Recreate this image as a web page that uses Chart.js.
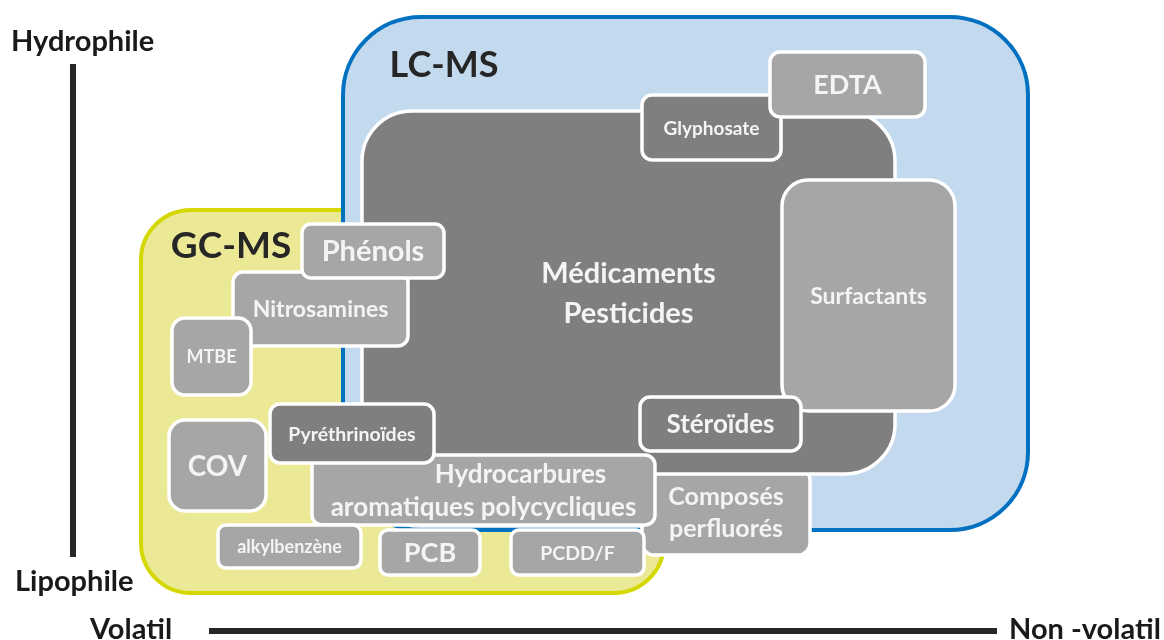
<!DOCTYPE html>
<html>
<head>
<meta charset="utf-8">
<script src="https://cdn.jsdelivr.net/npm/chart.js@4.4.0/dist/chart.umd.min.js"></script>
<style>
  html, body { margin: 0; padding: 0; background: #fff; }
  #diagramme { display: block; }
</style>
</head>
<body>
<canvas id="diagramme" width="1164" height="640"></canvas>
<script>
// Techniques d'analyse (zones) : étendue sur l'axe volatilité (x) et polarité (y)
const zones = ['LC-MS', 'GC-MS'];
const zoneX = [[343, 1028], [141, 664]];
const zoneY = [[17, 530], [210, 593]];

// Familles de composés, dans l'ordre de superposition
const composes = [
  'Composés\nperfluorés',
  'Médicaments\nPesticides',
  'Glyphosate',
  'EDTA',
  'Surfactants',
  'Stéroïdes',
  'Nitrosamines',
  'Phénols',
  'MTBE',
  'COV',
  'Hydrocarbures\naromatiques polycycliques',
  'Pyréthrinoïdes',
  'alkylbenzène',
  'PCB',
  'PCDD/F'
];
const composeX = [
  [642, 810], [362, 895], [642, 781], [770, 925], [782, 955], [640, 801],
  [233, 408], [302, 444], [172, 251], [169, 266], [312, 655], [270, 434],
  [218, 361], [380, 480], [511, 644]
];
const composeY = [
  [468, 555], [111, 474], [95, 160], [52, 117], [180, 411], [397, 451],
  [272, 346], [224, 278], [318, 395], [420, 511], [455, 525], [404, 463],
  [525, 568], [530, 575], [530, 575]
];

// Axes du diagramme
const axeLabels = ['Hydrophile', 'Lipophile', 'Volatil', 'Non -volatil'];
const axeVertical = [{ x: 73, y: 64 }, { x: 73, y: 557 }];
const axeHorizontal = [{ x: 209, y: 631 }, { x: 997, y: 631 }];

// Styles
const zoneFond = ['#c3d9ee', '#ebe996'];
const zoneBord = ['#0070c0', '#d4d700'];
const zoneRayon = [78, 50];
const zoneTitre = [{ x: 444, y: 65, taille: 36 }, { x: 231, y: 246, taille: 37 }];
const compFond = ['#a6a6a6', '#7f7f7f', '#7f7f7f', '#a6a6a6', '#a6a6a6', '#7f7f7f',
  '#a6a6a6', '#a6a6a6', '#a6a6a6', '#a6a6a6', '#a6a6a6', '#7f7f7f',
  '#a6a6a6', '#a6a6a6', '#a6a6a6'];
const compRayon = [12, 50, 10, 10, 26, 10, 10, 9, 13, 16, 10, 10, 8, 8, 8];
const compPolice = [25, 29, 19, 27, 23, 26, 23, 29, 18, 28, 26, 19.5, 18, 27, 19.5];
const compInterligne = [32, 40, 0, 0, 0, 0, 0, 0, 0, 0, 33, 0, 0, 0, 0];
// décalage horizontal de la première ligne (Hydrocarbures)
const compDecalage = [0, 0, 0, 0, 0, 0, 0, 0, 0, 0, 37, 0, 0, 0, 0];
const POLICE = 'Lato, "Open Sans", sans-serif';

function rondRect(ctx, x0, y0, x1, y1, r) {
  ctx.beginPath();
  ctx.moveTo(x0 + r, y0);
  ctx.lineTo(x1 - r, y0);
  ctx.arcTo(x1, y0, x1, y0 + r, r);
  ctx.lineTo(x1, y1 - r);
  ctx.arcTo(x1, y1, x1 - r, y1, r);
  ctx.lineTo(x0 + r, y1);
  ctx.arcTo(x0, y1, x0, y1 - r, r);
  ctx.lineTo(x0, y0 + r);
  ctx.arcTo(x0, y0, x0 + r, y0, r);
  ctx.closePath();
}

const boitesPlugin = {
  id: 'boites',
  beforeDatasetsDraw(chart) {
    const ctx = chart.ctx;
    const sx = chart.scales.x, sy = chart.scales.y;
    ctx.save();

    // zone GC-MS d'abord, puis LC-MS par-dessus
    [1, 0].forEach(function(i) {
      const x0 = sx.getPixelForValue(zoneX[i][0]), x1 = sx.getPixelForValue(zoneX[i][1]);
      const y0 = sy.getPixelForValue(zoneY[i][0]), y1 = sy.getPixelForValue(zoneY[i][1]);
      rondRect(ctx, x0, y0, x1, y1, zoneRayon[i]);
      ctx.fillStyle = zoneFond[i];
      ctx.fill();
      ctx.lineWidth = 4;
      ctx.strokeStyle = zoneBord[i];
      ctx.stroke();
    });
    ctx.fillStyle = '#262626';
    ctx.textAlign = 'center';
    ctx.textBaseline = 'middle';
    zones.forEach(function(nom, i) {
      ctx.font = 'bold ' + zoneTitre[i].taille + 'px ' + POLICE;
      ctx.fillText(nom, sx.getPixelForValue(zoneTitre[i].x), sy.getPixelForValue(zoneTitre[i].y));
    });

    composes.forEach(function(nom, i) {
      const x0 = sx.getPixelForValue(composeX[i][0]), x1 = sx.getPixelForValue(composeX[i][1]);
      const y0 = sy.getPixelForValue(composeY[i][0]), y1 = sy.getPixelForValue(composeY[i][1]);
      rondRect(ctx, x0, y0, x1, y1, compRayon[i]);
      ctx.fillStyle = compFond[i];
      ctx.fill();
      ctx.lineWidth = 3.5;
      ctx.strokeStyle = '#ffffff';
      ctx.stroke();

      const lignes = nom.split('\n');
      const cy = (y0 + y1) / 2;
      const cx = (x0 + x1) / 2;
      ctx.textAlign = 'center';
      ctx.fillStyle = '#f4f4f4';
      ctx.font = 'bold ' + compPolice[i] + 'px ' + POLICE;
      lignes.forEach(function(l, k) {
        const dy = (k - (lignes.length - 1) / 2) * compInterligne[i];
        const dx = k === 0 ? compDecalage[i] : 0;
        ctx.fillText(l, cx + dx, cy + dy + 1);
      });
    });

    // libellés des axes
    ctx.fillStyle = '#1a1a1a';
    ctx.font = 'bold 29px ' + POLICE;
    ctx.textAlign = 'left';
    ctx.fillText(axeLabels[0], 11, 42);
    ctx.fillText(axeLabels[1], 15, 582);
    ctx.fillText(axeLabels[2], 90, 630);
    ctx.fillText(axeLabels[3], 1009, 630);
    ctx.restore();
  }
};

const ctx = document.getElementById('diagramme').getContext('2d');
const chart = new Chart(ctx, {
  type: 'line',
  data: {
    datasets: [{
      label: 'Hydrophile / Lipophile',
      data: axeVertical,
      borderColor: '#262626',
      borderWidth: 6,
      pointRadius: 0
    }, {
      label: 'Volatil / Non-volatil',
      data: axeHorizontal,
      borderColor: '#262626',
      borderWidth: 6,
      pointRadius: 0
    }]
  },
  options: {
    responsive: false,
    animation: false,
    layout: { padding: 0 },
    plugins: { legend: { display: false }, tooltip: { enabled: false } },
    scales: {
      x: { type: 'linear', min: 0, max: 1164, display: false },
      y: { type: 'linear', min: 0, max: 640, reverse: true, display: false }
    }
  },
  plugins: [boitesPlugin]
});
</script>
</body>
</html>
